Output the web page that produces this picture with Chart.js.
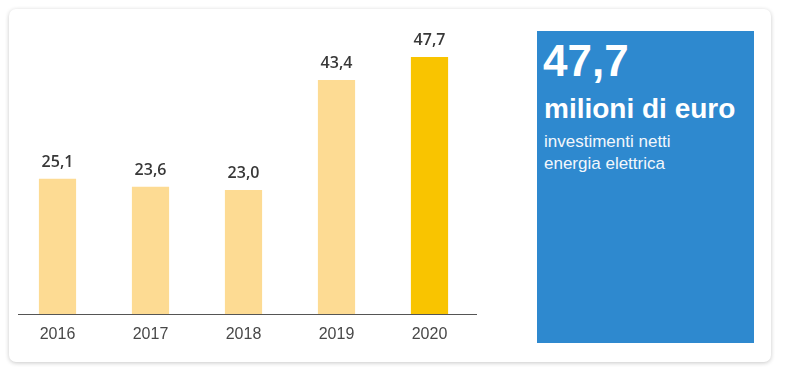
<!DOCTYPE html>
<html>
<head>
<meta charset="utf-8">
<script src="https://cdn.jsdelivr.net/npm/chart.js@4"></script>
<style>
    html, body { margin: 0; padding: 0; background: #fff; width: 788px; height: 382px; overflow: hidden; }
    .card {
        position: absolute; left: 9px; top: 9px; width: 762px; height: 353px;
        background: #fff; border-radius: 7px;
        box-shadow: 0 1px 4px rgba(0, 0, 0, 0.22);
    }
    .chart-wrap { position: absolute; left: 0; top: 0; width: 500px; height: 350px; }
    .kpi {
        position: absolute; left: 537px; top: 31px; width: 217px; height: 312px;
        background: #2e89cf; color: #fff; font-family: "Liberation Sans", Arial, sans-serif;
    }
    .kpi .big { position: absolute; left: 6px; top: 5px; font-size: 44px; font-weight: bold; line-height: 50px; }
    .kpi .unit { position: absolute; left: 7px; top: 61px; font-size: 28px; font-weight: bold; line-height: 34px; }
    .kpi .desc { position: absolute; left: 7px; top: 100px; font-size: 17px; line-height: 22px; color: #f2f7fc; }
</style>
</head>
<body>
<div class="card"></div>
<div class="chart-wrap"><canvas id="investChart"></canvas></div>
<div class="kpi">
    <div class="big">47,7</div>
    <div class="unit">milioni di euro</div>
    <div class="desc">investimenti netti<br>energia elettrica</div>
</div>
<script>
// Net investments, million euro
const years = ['2016', '2017', '2018', '2019', '2020'];
const investments = [25.1, 23.6, 23.0, 43.4, 47.7];
const barColors = ['#fddb93', '#fddb93', '#fddb93', '#fddb93', '#f9c400'];

// Value labels above each bar (comma decimal)
const valueLabels = {
    id: 'valueLabels',
    afterDatasetsDraw(chart) {
        const ctx = chart.ctx;
        const meta = chart.getDatasetMeta(0);
        ctx.save();
        ctx.font = '600 16px "Open Sans", sans-serif';
        ctx.fillStyle = '#383838';
        ctx.textAlign = 'center';
        ctx.textBaseline = 'alphabetic';
        meta.data.forEach((bar, i) => {
            const txt = investments[i].toFixed(1).replace('.', ',');
            ctx.fillText(txt, bar.x, bar.y - 12);
        });
        ctx.restore();
    }
};

// Baseline, a bit narrower on the left than the plot area
const baseLine = {
    id: 'baseLine',
    afterDraw(chart) {
        const a = chart.chartArea;
        const ctx = chart.ctx;
        ctx.save();
        ctx.strokeStyle = '#555';
        ctx.lineWidth = 1;
        ctx.beginPath();
        ctx.moveTo(a.left + 7, a.bottom + 0.5);
        ctx.lineTo(a.right + 1, a.bottom + 0.5);
        ctx.stroke();
        ctx.restore();
    }
};

const ctx = document.getElementById('investChart').getContext('2d');
new Chart(ctx, {
    type: 'bar',
    data: {
        labels: years,
        datasets: [{
            data: investments,
            backgroundColor: barColors,
            borderWidth: 0,
            barPercentage: 0.4,
            categoryPercentage: 1
        }]
    },
    options: {
        responsive: true,
        maintainAspectRatio: false,
        animation: false,
        layout: { padding: { left: 11, right: 24, top: 30, bottom: 10 } },
        plugins: { legend: { display: false }, tooltip: { enabled: false } },
        scales: {
            x: {
                grid: { display: false, drawTicks: false },
                border: { display: false },
                ticks: {
                    color: '#484848',
                    padding: 11,
                    font: { family: '"Liberation Sans", Arial, sans-serif', size: 16 }
                },
                afterFit(axis) { axis.height = 26; }
            },
            y: { display: false, min: 0, max: 52.7 }
        }
    },
    plugins: [valueLabels, baseLine]
});
</script>
</body>
</html>
